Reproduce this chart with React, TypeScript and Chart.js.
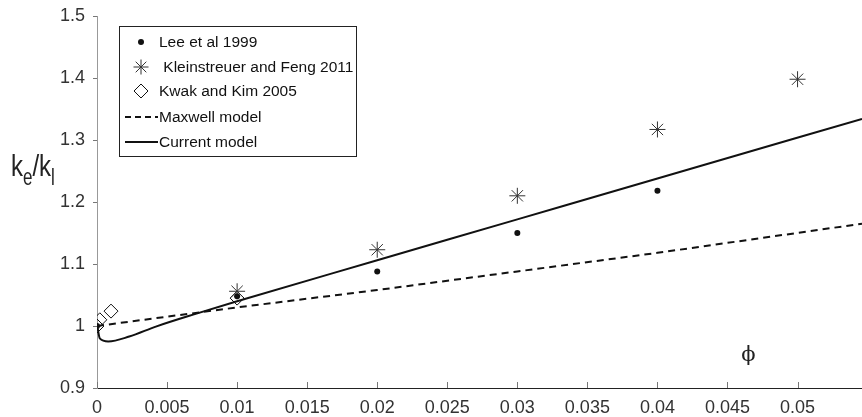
import React, { useEffect, useRef } from "react";
import { Chart, registerables } from "chart.js";

Chart.register(...registerables);

// ---- data ----
const leeX = [0, 0.01, 0.02, 0.03, 0.04];
const leeY = [1.0, 1.048, 1.088, 1.15, 1.218];

const kleinX = [0.01, 0.02, 0.03, 0.04, 0.05];
const kleinY = [1.056, 1.123, 1.21, 1.317, 1.398];

const kwakX = [0, 0.0002, 0.001, 0.01];
const kwakY = [1.0, 1.01, 1.024, 1.045];

const maxwellX = [0, 0.01, 0.02, 0.03, 0.04, 0.0546];
const maxwellY = [1.0, 1.03, 1.058, 1.088, 1.118, 1.165];

const currentX = [0, 0.0002, 0.0008, 0.0023, 0.0042, 0.0071, 0.01, 0.02, 0.03, 0.04, 0.0546];
const currentY = [1.003, 0.98, 0.975, 0.983, 0.999, 1.02, 1.04, 1.106, 1.172, 1.238, 1.334];

const xTicks = [0, 0.005, 0.01, 0.015, 0.02, 0.025, 0.03, 0.035, 0.04, 0.045, 0.05];
const yTicks = [0.9, 1.0, 1.1, 1.2, 1.3, 1.4, 1.5];

const legendLabels = [
  "Lee et al 1999",
  " Kleinstreuer and Feng 2011",
  "Kwak and Kim 2005",
  "Maxwell model",
  "Current model",
];

const xAxisLabel = "ϕ";
const yLabelParts = ["k", "e", "/k", "l"];

const FONT = '"Liberation Sans", Arial, sans-serif';

const pts = (xs: number[], ys: number[]) => xs.map((x, i) => ({ x, y: ys[i] }));

const fmt = (v: number) => String(Number(v.toFixed(4)));

const decorPlugin = {
  id: "decor",
  afterDraw(chart: any) {
    const ctx = chart.ctx as CanvasRenderingContext2D;
    const xs = chart.scales.x;
    const ys = chart.scales.y;
    const area = chart.chartArea;
    ctx.save();
    // x ticks (inward)
    ctx.strokeStyle = "#777";
    ctx.lineWidth = 1;
    xTicks.forEach((t) => {
      const px = Math.round(xs.getPixelForValue(t)) + 0.5;
      ctx.beginPath();
      ctx.moveTo(px, area.bottom);
      ctx.lineTo(px, area.bottom - 6);
      ctx.stroke();
    });
    yTicks.forEach((t) => {
      const py = Math.round(ys.getPixelForValue(t)) + 0.5;
      ctx.beginPath();
      ctx.moveTo(area.left, py);
      ctx.lineTo(area.left - 4, py);
      ctx.stroke();
    });

    // phi label inside plot
    ctx.fillStyle = "#222";
    ctx.font = `21px "DejaVu Serif", serif`;
    ctx.textAlign = "center";
    ctx.textBaseline = "middle";
    ctx.fillText(xAxisLabel, xs.getPixelForValue(0.0465), ys.getPixelForValue(0.953));

    // y label k_e/k_l (slightly stretched vertically like the source)
    ctx.textAlign = "left";
    ctx.textBaseline = "alphabetic";
    ctx.fillStyle = "#222";
    let cx = 11;
    yLabelParts.forEach((p, i) => {
      const sub = i % 2 === 1;
      ctx.save();
      ctx.font = sub ? `17px ${FONT}` : `24px ${FONT}`;
      const w = ctx.measureText(p).width;
      ctx.translate(cx, sub ? 185 : 176);
      ctx.scale(1, sub ? 1.4 : 1.2);
      ctx.fillText(p, 0, 0);
      ctx.restore();
      cx += w;
    });

    // legend
    const lx = 119.5, ly = 26.5, lw = 237, lh = 130;
    ctx.fillStyle = "#fff";
    ctx.fillRect(lx, ly, lw, lh);
    ctx.strokeStyle = "#222";
    ctx.lineWidth = 1;
    ctx.strokeRect(lx, ly, lw, lh);
    const rows = [42, 67, 91, 117, 142];
    ctx.font = `15.5px ${FONT}`;
    ctx.fillStyle = "#111";
    ctx.textBaseline = "middle";
    legendLabels.forEach((l, i) => {
      ctx.fillText(l, 159, rows[i] + 1);
    });
    ctx.fillStyle = "#111";
    ctx.beginPath();
    ctx.arc(141, rows[0], 3, 0, Math.PI * 2);
    ctx.fill();
    ctx.strokeStyle = "#333";
    const sr = 7.5;
    const sx = 141, sy = rows[1];
    ctx.beginPath();
    ctx.moveTo(sx, sy - sr); ctx.lineTo(sx, sy + sr);
    ctx.moveTo(sx - sr, sy); ctx.lineTo(sx + sr, sy);
    const d = sr * Math.SQRT1_2;
    ctx.moveTo(sx - d, sy - d); ctx.lineTo(sx + d, sy + d);
    ctx.moveTo(sx - d, sy + d); ctx.lineTo(sx + d, sy - d);
    ctx.stroke();
    ctx.strokeStyle = "#111";
    const dr = 7, dx = 141, dy = rows[2];
    ctx.beginPath();
    ctx.moveTo(dx - dr, dy); ctx.lineTo(dx, dy - dr); ctx.lineTo(dx + dr, dy); ctx.lineTo(dx, dy + dr);
    ctx.closePath();
    ctx.stroke();
    ctx.lineWidth = 2;
    ctx.setLineDash([6, 4]);
    ctx.beginPath();
    ctx.moveTo(125, rows[3]); ctx.lineTo(158, rows[3]);
    ctx.stroke();
    ctx.setLineDash([]);
    ctx.beginPath();
    ctx.moveTo(125, rows[4]); ctx.lineTo(158, rows[4]);
    ctx.stroke();
    ctx.restore();
  },
};

export default function App() {
  const ref = useRef<HTMLCanvasElement | null>(null);
  useEffect(() => {
    if (!ref.current) return;
    const chart = new Chart(ref.current, {
      type: "scatter",
      data: {
        datasets: [
          { label: legendLabels[0], data: pts(leeX, leeY), pointStyle: "circle", pointRadius: 3, backgroundColor: "#111", borderColor: "#111", borderWidth: 0, showLine: false },
          { label: legendLabels[1], data: pts(kleinX, kleinY), pointStyle: "star", pointRadius: 8, borderColor: "#333", backgroundColor: "#333", borderWidth: 1, showLine: false },
          { label: legendLabels[2], data: pts(kwakX, kwakY), pointStyle: "rectRot", pointRadius: 7, borderColor: "#111", backgroundColor: "rgba(0,0,0,0)", borderWidth: 1, showLine: false },
          { label: legendLabels[3], data: pts(maxwellX, maxwellY), showLine: true, pointRadius: 0, borderColor: "#111", borderWidth: 2, borderDash: [7, 5], tension: 0 },
          { label: legendLabels[4], data: pts(currentX, currentY), showLine: true, pointRadius: 0, borderColor: "#111", borderWidth: 2, cubicInterpolationMode: "monotone" },
        ],
      },
      options: {
        animation: false,
        responsive: true,
        maintainAspectRatio: false,
        layout: { autoPadding: false, padding: { top: 16, right: 0, left: 0, bottom: 0 } },
        plugins: { legend: { display: false }, tooltip: { enabled: false } },
        scales: {
          x: {
            type: "linear",
            min: 0,
            max: 0.0546,
            grid: { display: false },
            border: { display: true, color: "#222", width: 1 },
            ticks: {
              stepSize: 0.005,
              includeBounds: false,
              autoSkip: false,
              maxRotation: 0,
              padding: 1,
              color: "#333",
              font: { family: FONT, size: 18 },
              callback: (v: any) => fmt(Number(v)),
            },
            afterFit: (s: any) => {
              s.height = 29;
              s.paddingLeft = 0;
              s.paddingRight = 0;
            },
          },
          y: {
            type: "linear",
            min: 0.9,
            max: 1.5,
            grid: { display: false },
            border: { display: true, color: "#999", width: 1 },
            ticks: {
              stepSize: 0.1,
              padding: 4,
              color: "#333",
              font: { family: FONT, size: 18 },
              callback: (v: any) => fmt(Number(v)),
            },
            afterFit: (s: any) => {
              s.width = 97;
            },
          },
        },
      },
      plugins: [decorPlugin],
    });
    return () => chart.destroy();
  }, []);
  return (
    <div style={{ position: "absolute", left: 0, top: 0, width: 862, height: 417, background: "#fff" }}>
      <canvas ref={ref} />
    </div>
  );
}
